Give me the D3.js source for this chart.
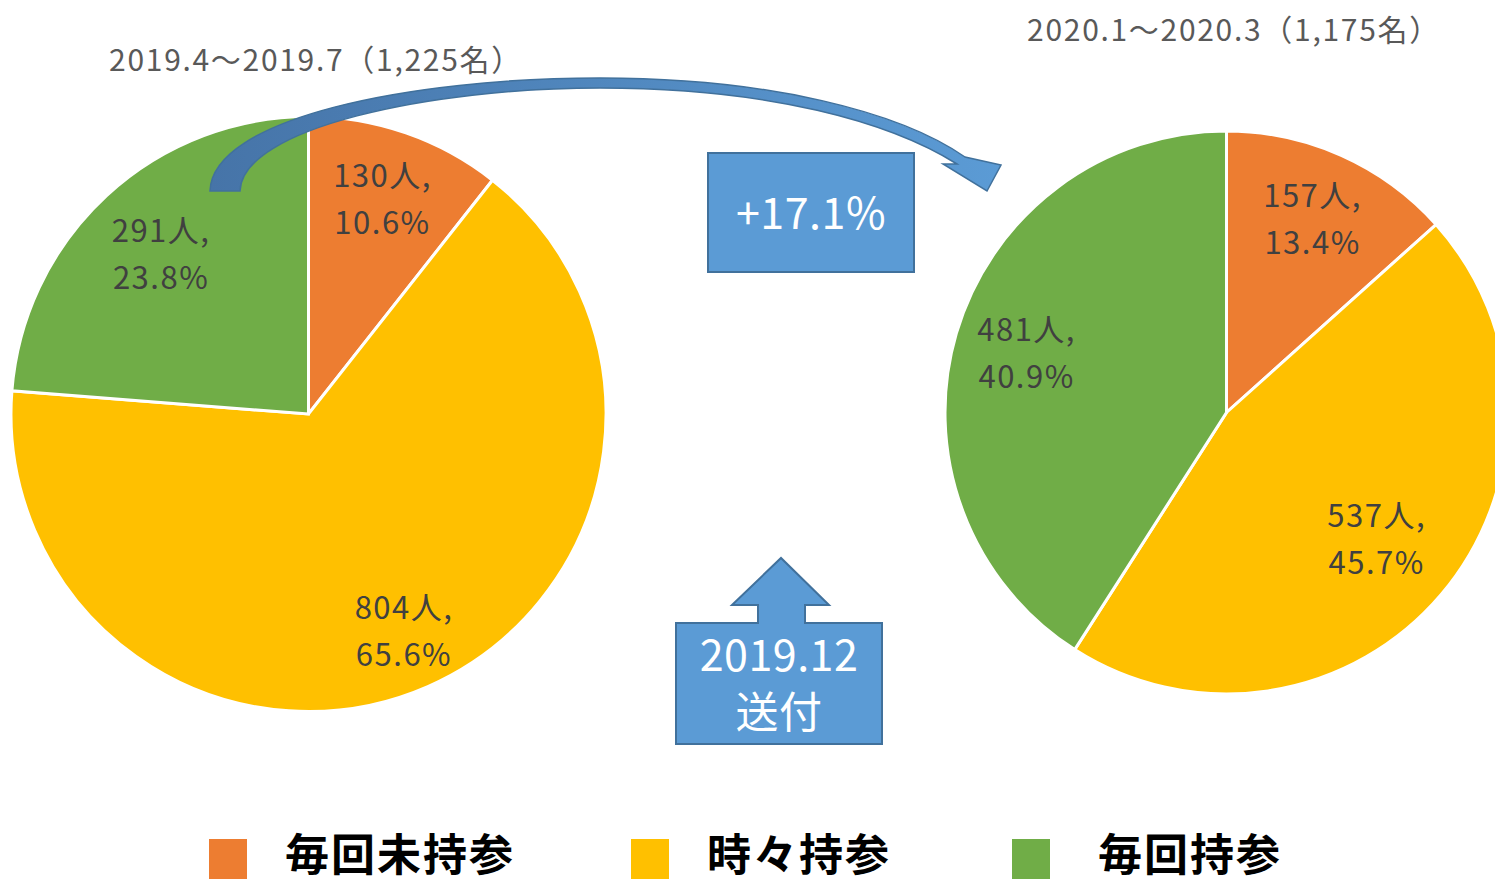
<!DOCTYPE html>
<html>
<head>
<meta charset="utf-8" />
<title>持参状況</title>
<style>
body { margin: 0; background: #fff; }
svg text { font-family: "Noto Sans CJK JP", "Noto Sans", sans-serif; }
.lbl { fill: #404040; font-size: 31px; letter-spacing: 1.5px; }
.ttl { fill: #595959; font-size: 30px; letter-spacing: 1.7px; }
.leg { fill: #000; font-size: 44px; font-weight: bold; letter-spacing: 2px; }
.boxtxt { fill: #fff; font-size: 43px; letter-spacing: 0.5px; }
</style>
</head>
<body>
<svg width="1495" height="886"></svg>
<script src="https://d3js.org/d3.v7.min.js"></script>
<script>

// categories and values
var categories = ["毎回未持参", "時々持参", "毎回持参"];
var colors = ["#ED7D31", "#FFC000", "#70AD47"];
var leftValues = [130, 804, 291];
var rightValues = [157, 537, 481];
var leftTitle = "2019.4～2019.7（1,225名）";
var rightTitle = "2020.1～2020.3（1,175名）";
var sendLines = ["2019.12", "送付"];

var svg = d3.select("svg");

var color = d3.scaleOrdinal().domain(categories).range(colors);
var pie = d3.pie().sort(null);

function drawPie(values, cx, cy, r, labelR) {
  var g = svg.append("g").attr("transform", "translate(" + cx + "," + cy + ")");
  var total = d3.sum(values);
  var arcs = pie(values);
  var arc = d3.arc().innerRadius(0).outerRadius(r);

  g.selectAll("path")
    .data(arcs)
    .enter().append("path")
      .attr("d", arc)
      .attr("fill", function(d, i) { return color(categories[i]); })
      .attr("stroke", "#fff")
      .attr("stroke-width", 3);

  var t = g.selectAll("text.lbl")
    .data(arcs)
    .enter().append("text")
      .attr("class", "lbl")
      .attr("text-anchor", "middle")
      .attr("transform", function(d, i) {
        var lr = r * labelR[i];
        return "translate(" + d3.arc().innerRadius(lr).outerRadius(lr).centroid(d) + ")";
      });
  t.append("tspan").attr("x", 0).attr("y", -13)
    .text(function(d) { return d.value + "人,"; });
  t.append("tspan").attr("x", 0).attr("y", 34)
    .text(function(d) { return (d.value / total * 100).toFixed(1) + "%"; });
}

drawPie(leftValues, 308.5, 414, 297.5, [0.76, 0.80, 0.73]);
drawPie(rightValues, 1226.5, 412.5, 281.5, [0.75, 0.70, 0.74]);

svg.append("text").attr("class", "ttl").attr("x", 316).attr("y", 71)
  .attr("text-anchor", "middle").text(leftTitle);
svg.append("text").attr("class", "ttl").attr("x", 1234).attr("y", 41)
  .attr("text-anchor", "middle").text(rightTitle);

// curved arrow
var grad = svg.append("defs").append("linearGradient")
  .attr("id", "arrowGrad").attr("x1", "0").attr("x2", "1").attr("y1", "0").attr("y2", "0");
grad.append("stop").attr("offset", "0").attr("stop-color", "#4674a8");
grad.append("stop").attr("offset", "1").attr("stop-color", "#5b9bd5");

svg.append("path")
  .attr("d", "M210,191 C212,118 410,78 600,78 C770,78 900,112 965,157 " +
             "L1001,165 L987,191 L943,164 L957,164 " +
             "C890,122 770,88 600,88 C430,88 242,128 240,191 Z")
  .attr("fill", "url(#arrowGrad)")
  .attr("stroke", "#41719c")
  .attr("stroke-width", 1.5);

// +17.1% box
var diff = (rightValues[2] / d3.sum(rightValues) * 100).toFixed(1) - (leftValues[2] / d3.sum(leftValues) * 100).toFixed(1);
svg.append("rect").attr("x", 708).attr("y", 153).attr("width", 206).attr("height", 119)
  .attr("fill", "#5b9bd5").attr("stroke", "#41719c").attr("stroke-width", 2);
svg.append("text").attr("class", "boxtxt").attr("x", 811).attr("y", 229)
  .attr("text-anchor", "middle").text("+" + diff.toFixed(1) + "%");

// up-arrow callout
svg.append("path")
  .attr("d", "M676,623 L758,623 L758,605 L732,605 L781,558 L829,605 L805,605 L805,623 L882,623 L882,744 L676,744 Z")
  .attr("fill", "#5b9bd5").attr("stroke", "#41719c").attr("stroke-width", 2);
svg.selectAll("text.send")
  .data(sendLines)
  .enter().append("text")
    .attr("class", "boxtxt send")
    .attr("x", 779)
    .attr("y", function(d, i) { return 671 + i * 57; })
    .attr("text-anchor", "middle")
    .text(function(d) { return d; });

// legend
var legX = d3.scaleOrdinal().domain(categories).range([209, 631, 1012]);
var leg = svg.selectAll("g.legend")
  .data(categories)
  .enter().append("g")
    .attr("class", "legend")
    .attr("transform", function(d) { return "translate(" + legX(d) + ",839)"; });
leg.append("rect").attr("width", 38).attr("height", 40)
  .attr("fill", function(d) { return color(d); });
leg.append("text").attr("class", "leg")
  .attr("x", function(d, i) { return i === 2 ? 86 : 76; })
  .attr("y", 32)
  .text(function(d) { return d; });

</script>
</body>
</html>
